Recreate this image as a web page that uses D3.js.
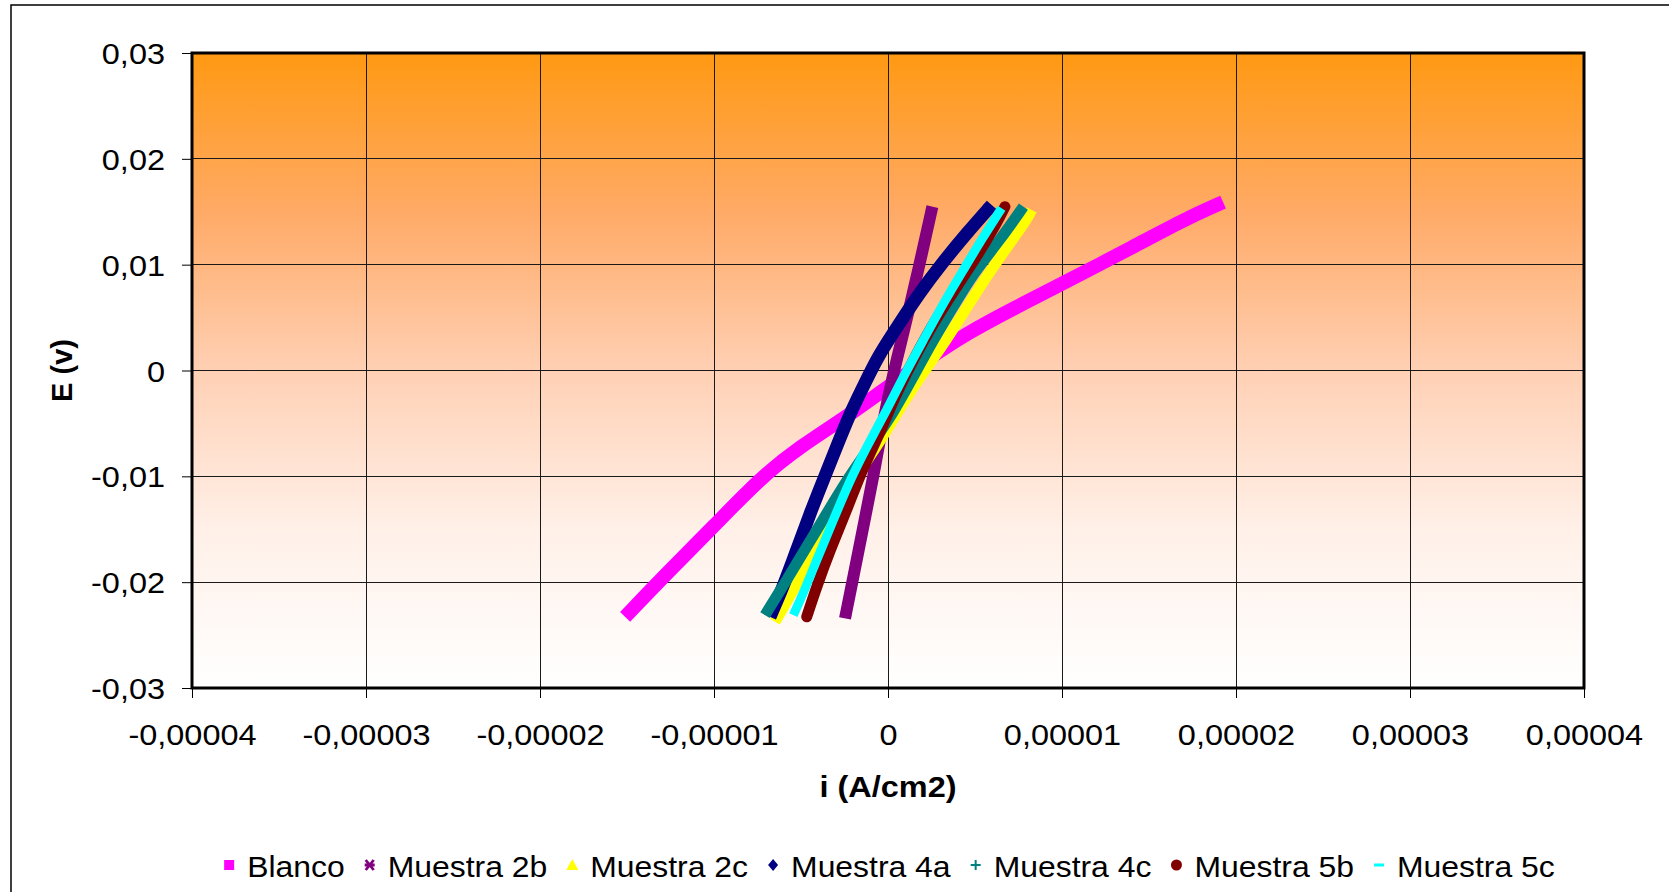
<!DOCTYPE html>
<html><head><meta charset="utf-8">
<script src="https://cdn.jsdelivr.net/npm/d3@7"></script>
<style>
html,body{margin:0;padding:0;background:#fff;}
svg{display:block;font-family:"Liberation Sans",Arial,sans-serif;}
</style></head>
<body>
<svg id="chart" width="1669" height="892"></svg>
<script>
// ---- data (i in A/cm2, E in V) ----
const xTickValues = [-0.00004,-0.00003,-0.00002,-0.00001,0,0.00001,0.00002,0.00003,0.00004];
const xTickLabels = ["-0,00004","-0,00003","-0,00002","-0,00001","0","0,00001","0,00002","0,00003","0,00004"];
const yTickValues = [-0.03,-0.02,-0.01,0,0.01,0.02,0.03];
const yTickLabels = ["-0,03","-0,02","-0,01","0","0,01","0,02","0,03"];
const seriesNames = ["Blanco","Muestra 2b","Muestra 2c","Muestra 4a","Muestra 4c","Muestra 5b","Muestra 5c"];

const blanco = [[-1.483e-5,-0.0228],[-1.272e-5,-0.01917],[-1.004e-5,-0.01476],[-0.73e-5,-0.0101],[-0.506e-5,-0.0072],[-0.237e-5,-0.00437],[-0.027e-5,-0.00184],[0.222e-5,0.00099],[0.452e-5,0.00352],[0.74e-5,0.00603],[1.007e-5,0.00824],[1.41e-5,0.0117],[1.697e-5,0.01422],[1.889e-5,0.01564]];
const muestra2b = [[-0.247e-5,-0.02342],[-0.199e-5,-0.01949],[-0.142e-5,-0.01476],[-0.084e-5,-0.01004],[-0.027e-5,-0.00468],[0.03e-5,-0.00026],[0.107e-5,0.00477],[0.174e-5,0.0095],[0.255e-5,0.01548]];
const muestra2c = [[-0.649e-5,-0.02374],[-0.544e-5,-0.02075],[-0.429e-5,-0.01728],[-0.314e-5,-0.0135],[-0.199e-5,-0.01035],[-0.065e-5,-0.0072],[0.05e-5,-0.00405],[0.184e-5,-0.00059],[0.337e-5,0.00288],[0.49e-5,0.00698],[0.644e-5,0.01076],[0.797e-5,0.01422],[0.826e-5,0.01517]];
const muestra4a = [[-0.678e-5,-0.02327],[-0.602e-5,-0.02043],[-0.525e-5,-0.01697],[-0.448e-5,-0.0135],[-0.372e-5,-0.01035],[-0.295e-5,-0.0072],[-0.218e-5,-0.00405],[-0.142e-5,-0.00153],[-0.06e-5,0.0013],[0.06e-5,0.0043],[0.18e-5,0.0073],[0.31e-5,0.01013],[0.452e-5,0.01297],[0.596e-5,0.01564]];
const muestra4c = [[-0.707e-5,-0.02311],[-0.582e-5,-0.0198],[-0.467e-5,-0.01665],[-0.352e-5,-0.0135],[-0.237e-5,-0.01035],[-0.103e-5,-0.0072],[0.03e-5,-0.00405],[0.145e-5,-0.00059],[0.26e-5,0.00288],[0.375e-5,0.00603],[0.49e-5,0.00919],[0.644e-5,0.01233],[0.778e-5,0.01548]];
const muestra5b = [[-0.467e-5,-0.02327],[-0.41e-5,-0.02043],[-0.333e-5,-0.01697],[-0.237e-5,-0.01319],[-0.142e-5,-0.00909],[-0.046e-5,-0.00594],[0.03e-5,-0.00279],[0.145e-5,0.00099],[0.26e-5,0.00446],[0.395e-5,0.00792],[0.51e-5,0.01076],[0.625e-5,0.01391],[0.672e-5,0.01548]];
const muestra5c = [[-0.544e-5,-0.02311],[-0.487e-5,-0.02106],[-0.41e-5,-0.01791],[-0.314e-5,-0.01413],[-0.218e-5,-0.01035],[-0.122e-5,-0.0072],[-0.007e-5,-0.00373],[0.088e-5,-0.00059],[0.203e-5,0.00288],[0.318e-5,0.00635],[0.433e-5,0.0095],[0.548e-5,0.01265],[0.653e-5,0.01533]];

const allSeries = [blanco,muestra2b,muestra2c,muestra4a,muestra4c,muestra5b,muestra5c];
const colors = ["#FF00FF","#800080","#FFFF00","#000080","#008080","#800000","#00FFFF"];
const widths = [14,12,11,13,11,11,9];
const caps = ["square","butt","butt","butt","butt","round","butt"];
const markerTypes = ["square","x","triangle","diamond","plus","circle","dash"];

// ---- layout ----
const svg = d3.select("#chart");
const L=192, R=1584, T=53, B=688;
const SX = 1.12, FS = 29;
const x = d3.scaleLinear().domain([-0.00004,0.00004]).range([L,R]);
const y = d3.scaleLinear().domain([-0.03,0.03]).range([B,T]);

// outer frame
svg.append("rect").attr("x",11).attr("y",5).attr("width",1700).attr("height",900)
  .attr("fill","#fff").attr("stroke","#000").attr("stroke-width",1.5);

// gradient background
const defs = svg.append("defs");
const grad = defs.append("linearGradient").attr("id","bg").attr("x1",0).attr("y1",0).attr("x2",0).attr("y2",1);
[[0,"#FF9912"],[0.25,"#FFAA66"],[0.5,"#FFD0B4"],[0.75,"#FFF0E8"],[1,"#FFFFFF"]].forEach(s=>
  grad.append("stop").attr("offset",s[0]).attr("stop-color",s[1]));
defs.append("clipPath").attr("id","clip").append("rect").attr("x",L).attr("y",T).attr("width",R-L).attr("height",B-T);

svg.append("rect").attr("x",L).attr("y",T).attr("width",R-L).attr("height",B-T).attr("fill","url(#bg)");

// grid
const grid = svg.append("g").attr("stroke","#1a1a1a").attr("stroke-width",1).attr("shape-rendering","crispEdges");
xTickValues.forEach(v=>grid.append("line").attr("x1",x(v)).attr("x2",x(v)).attr("y1",T).attr("y2",B));
yTickValues.forEach(v=>grid.append("line").attr("x1",L).attr("x2",R).attr("y1",y(v)).attr("y2",y(v)));

// series
const line = d3.line().x(d=>x(d[0])).y(d=>y(d[1])).curve(d3.curveBasis);
const plot = svg.append("g").attr("clip-path","url(#clip)");
allSeries.forEach((s,i)=>{
  plot.append("path").datum(s).attr("d",line).attr("fill","none")
    .attr("stroke",colors[i]).attr("stroke-width",widths[i]).attr("stroke-linecap",caps[i]).attr("stroke-linejoin","round");
});

// plot border
svg.append("rect").attr("x",L).attr("y",T).attr("width",R-L).attr("height",B-T)
  .attr("fill","none").attr("stroke","#000").attr("stroke-width",3);

// axes
const ax = svg.append("g").attr("transform",`translate(0,${B})`)
  .call(d3.axisBottom(x).tickValues(xTickValues).tickFormat((d,i)=>xTickLabels[i]).tickSize(10).tickSizeOuter(0));
const ay = svg.append("g").attr("transform",`translate(${L},0)`)
  .call(d3.axisLeft(y).tickValues(yTickValues).tickFormat((d,i)=>yTickLabels[i]).tickSize(10).tickSizeOuter(0));
[ax,ay].forEach(a=>{
  a.select(".domain").remove();
  a.selectAll(".tick line").attr("stroke","#000").attr("stroke-width",1);
  a.selectAll(".tick text").attr("font-size",FS).attr("fill","#000").attr("font-family","Liberation Sans, Arial, sans-serif");
});
ax.selectAll(".tick text").attr("y",57).attr("dy",0).attr("transform",`scale(${SX},1)`);
ay.selectAll(".tick text").attr("x",-27/SX).attr("dy",10.5).attr("transform",`scale(${SX},1)`);

// axis titles
svg.append("text").attr("transform",`translate(${(L+R)/2},797) scale(${SX},1)`).attr("text-anchor","middle")
  .attr("font-size",FS).attr("font-weight","bold").text("i (A/cm2)");
svg.append("text").attr("transform",`translate(72,${(T+B)/2}) rotate(-90)`).attr("text-anchor","middle")
  .attr("font-size",FS).attr("font-weight","bold").text("E (v)");

// legend
const leg = svg.append("g");
const items = [];
const LSX = 1.1;
seriesNames.forEach((n,i)=>{
  const g = leg.append("g");
  const t = g.append("text").attr("font-size",FS).attr("fill","#000").text(n);
  items.push({g,t,w:t.node().getComputedTextLength()*LSX,i});
});
const gapMT = 18, gapTM = 25;
let total = 0;
items.forEach((it,k)=>{ total += gapMT + it.w + (k<items.length-1?gapTM:0); });
let cx = (L+R)/2 + 4 - total/2;
const ly = 865;
items.forEach(it=>{
  const mx = cx, i = it.i, c = colors[i];
  const m = it.g.append("g").attr("transform",`translate(${mx},${ly})`);
  const type = markerTypes[i];
  if(type==="square") m.append("rect").attr("x",-5).attr("y",-5).attr("width",10).attr("height",10).attr("fill",c);
  if(type==="x"){ m.append("path").attr("d","M-4,-5L4,5M4,-5L-4,5M-5,0L5,0").attr("stroke",c).attr("stroke-width",2.8); }
  if(type==="triangle") m.append("path").attr("d","M0,-6L6,5L-6,5Z").attr("fill",c);
  if(type==="diamond") m.append("path").attr("d","M0,-6L5,0L0,6L-5,0Z").attr("fill",c);
  if(type==="plus") m.append("path").attr("d","M-5,0L5,0M0,-5L0,5").attr("stroke",c).attr("stroke-width",2);
  if(type==="circle") m.append("circle").attr("r",5.5).attr("fill",c);
  if(type==="dash") m.append("rect").attr("x",-5).attr("y",-1.5).attr("width",10).attr("height",3).attr("fill",c);
  it.t.attr("transform",`translate(${mx+gapMT},${ly+12}) scale(${LSX},1)`);
  cx += gapMT + it.w + gapTM;
});
</script>
</body></html>
